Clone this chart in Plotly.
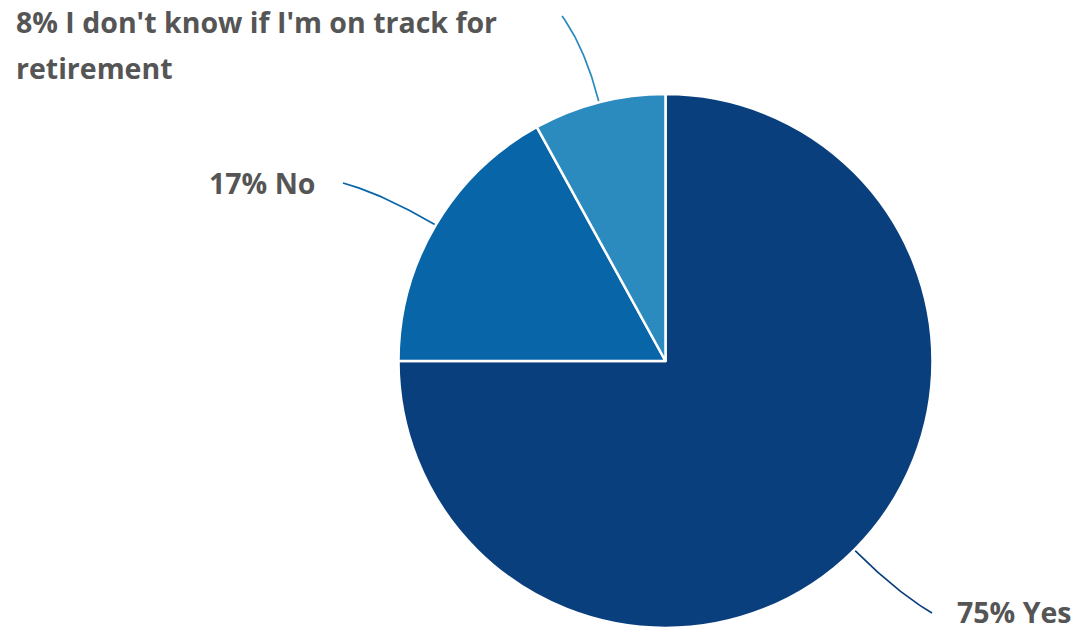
import numpy as np
import plotly.graph_objects as go

# Survey answers
labels = ["Yes", "No", "I don't know if I'm on track for retirement"]
values = [75, 17, 8]
colors = ["#0a3f7e", "#0866a8", "#2b8bbf"]

W, H = 1088, 633
CX, CY, R = 665.5, 361.0, 267.0          # pie centre / radius in pixels
TEXT_COLOR = "#555555"
FONT = "Open Sans"

# Where each leader line ends (pixels)
label_ends = [(932, 613), (343, 183), (562, 16)]

fig = go.Figure()

fig.add_trace(go.Pie(
    labels=labels,
    values=values,
    sort=False,
    direction="clockwise",
    rotation=0,
    marker=dict(colors=colors, line=dict(color="white", width=2.5)),
    textinfo="none",
    hoverinfo="label+percent",
    showlegend=False,
    domain=dict(x=[(CX - R) / W, (CX + R) / W],
                y=[1 - (CY + R) / H, 1 - (CY - R) / H]),
))

# Leader lines: leave the slice radially from its mid-angle, bend toward the label
total = sum(values)
cum = 0
for val, col, (ex, ey) in zip(values, colors, label_ends):
    mid = (cum + val / 2) / total * 2 * np.pi
    cum += val
    sx, sy = CX + R * np.sin(mid), CY - R * np.cos(mid)
    dist = np.hypot(ex - sx, ey - sy)
    kx, ky = sx + np.sin(mid) * dist * 0.6, sy - np.cos(mid) * dist * 0.6
    t = np.linspace(0, 1, 40)
    bx = (1 - t) ** 2 * sx + 2 * (1 - t) * t * kx + t ** 2 * ex
    by = (1 - t) ** 2 * sy + 2 * (1 - t) * t * ky + t ** 2 * ey
    fig.add_trace(go.Scatter(x=bx, y=by, mode="lines",
                             line=dict(color=col, width=1.7),
                             hoverinfo="skip", showlegend=False))

pct = [f"{v}%" for v in values]
font = dict(family=FONT, size=28.5, color=TEXT_COLOR)
annotations = [
    dict(x=955, y=612, text=f"<b>{pct[0]} {labels[0]}</b>", xanchor="left"),
    dict(x=318, y=183, text=f"<b>{pct[1]} {labels[1]}</b>", xanchor="right"),
    dict(x=14, y=22, text=f"<b>{pct[2]} I don't know if I'm on track for</b>", xanchor="left"),
    dict(x=14, y=68, text="<b>retirement</b>", xanchor="left"),
]
for a in annotations:
    a.update(xref="x", yref="y", yanchor="middle", showarrow=False, font=font)

fig.update_layout(
    width=W, height=H,
    margin=dict(l=0, r=0, t=0, b=0),
    paper_bgcolor="white", plot_bgcolor="rgba(0,0,0,0)",
    xaxis=dict(range=[0, W], visible=False, fixedrange=True),
    yaxis=dict(range=[H, 0], visible=False, fixedrange=True),
    annotations=annotations,
)

fig.write_html("out.html")
